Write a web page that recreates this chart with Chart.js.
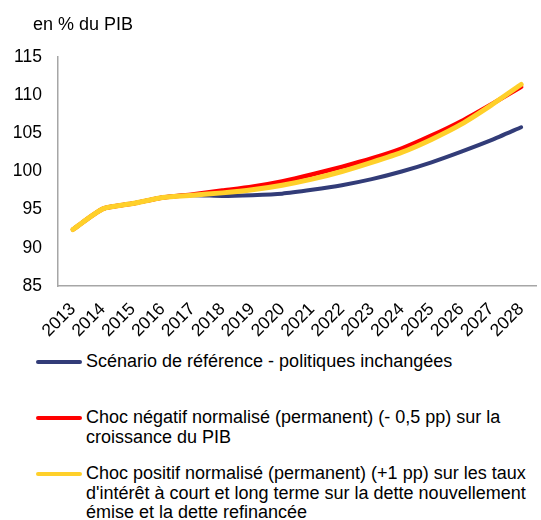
<!DOCTYPE html>
<html lang="fr">
<head>
    <meta charset="UTF-8">
    <title>Dette en % du PIB</title>
    <script src="https://cdn.jsdelivr.net/npm/chart.js"></script>
    <style>
        body {
            margin: 0;
            background: #fff;
            font-family: 'Liberation Sans', Arial, sans-serif;
            color: #000;
        }
        .wrap {
            position: relative;
            width: 541px;
            height: 520px;
        }
        .unit {
            position: absolute;
            left: 33px;
            top: 14px;
            font-size: 18px;
        }
        #chart {
            position: absolute;
            left: 0;
            top: 0;
        }
        /* legend under the plot */
        #legend {
            position: absolute;
            left: 36px;
            top: 352px;
            width: 505px;
        }
        .item {
            display: flex;
            height: 56px;
            font-size: 18px;
            line-height: 19.5px;
        }
        .swatch {
            flex: none;
            width: 46px;
            height: 4px;
            margin: 8px 4px 0 0;
            border-radius: 2px;
        }
        .item span.txt {
            width: 470px;
        }
    </style>
</head>
<body>
<div class="wrap">
    <canvas id="chart" width="541" height="345"></canvas>
    <div class="unit">en % du PIB</div>
    <div id="legend"></div>
</div>

<script>
const years = ["2013", "2014", "2015", "2016", "2017", "2018", "2019", "2020",
               "2021", "2022", "2023", "2024", "2025", "2026", "2027", "2028"];

const reference = [92.4, 95.1, 95.8, 96.6, 96.9, 96.8, 96.9, 97.1,
                   97.6, 98.2, 99.0, 100.0, 101.2, 102.6, 104.1, 105.8];
const growthShock = [92.4, 95.1, 95.8, 96.6, 97.0, 97.5, 98.0, 98.7,
                     99.6, 100.6, 101.7, 103.0, 104.7, 106.6, 108.8, 111.1];
const rateShock = [92.4, 95.1, 95.8, 96.6, 96.9, 97.2, 97.6, 98.2,
                   99.0, 100.0, 101.2, 102.5, 104.2, 106.2, 108.7, 111.4];

const seriesNames = [
    "Scénario de référence - politiques inchangées",
    "Choc négatif normalisé (permanent) (- 0,5 pp) sur la croissance du PIB",
    "Choc positif normalisé (permanent) (+1 pp) sur les taux d'intérêt à court et long terme sur la dette nouvellement émise et la dette refinancée"
];
const yTicks = [85, 90, 95, 100, 105, 110, 115];

const colors = ["#323c78", "#ff0000", "#ffd02a"];

Chart.defaults.font.family = "'Liberation Sans', Arial, sans-serif";
Chart.defaults.color = "#000";

const chart = new Chart(document.getElementById("chart"), {
    type: "line",
    data: {
        labels: years,
        datasets: [
            { label: seriesNames[0], data: reference, borderColor: colors[0], borderWidth: 4, order: 3 },
            { label: seriesNames[1], data: growthShock, borderColor: colors[1], borderWidth: 4.5, order: 2 },
            { label: seriesNames[2], data: rateShock, borderColor: colors[2], borderWidth: 5, order: 1 }
        ]
    },
    options: {
        responsive: false,
        animation: false,
        devicePixelRatio: 1,
        layout: { padding: { top: 57, left: 0, right: 0, bottom: 0 } },
        elements: {
            point: { radius: 0 },
            line: { tension: 0.2, borderCapStyle: "round", borderJoinStyle: "round", fill: false }
        },
        plugins: {
            legend: { display: false },
            tooltip: { enabled: false }
        },
        scales: {
            x: {
                offset: true,
                grid: { display: false },
                border: { display: true, color: "#a6a6a6", width: 1.5 },
                ticks: { font: { size: 17.5 }, maxRotation: 45, minRotation: 45, padding: 5, autoSkip: false },
                afterFit: s => { s.height = 59; }
            },
            y: {
                min: yTicks[0],
                max: yTicks[yTicks.length - 1],
                afterBuildTicks: s => { s.ticks = yTicks.map(v => ({ value: v })); },
                grid: { display: false },
                border: { display: true, color: "#a6a6a6", width: 1.5 },
                ticks: { font: { size: 17.5 }, padding: 8 },
                afterFit: s => { s.width = 58; }
            }
        }
    }
});

// legend built from the dataset labels so long names can wrap
const legend = document.getElementById("legend");
chart.data.datasets.forEach(ds => {
    const item = document.createElement("div");
    item.className = "item";
    item.innerHTML = `<span class="swatch" style="background:${ds.borderColor}"></span><span class="txt">${ds.label}</span>`;
    legend.appendChild(item);
});
</script>
</body>
</html>
